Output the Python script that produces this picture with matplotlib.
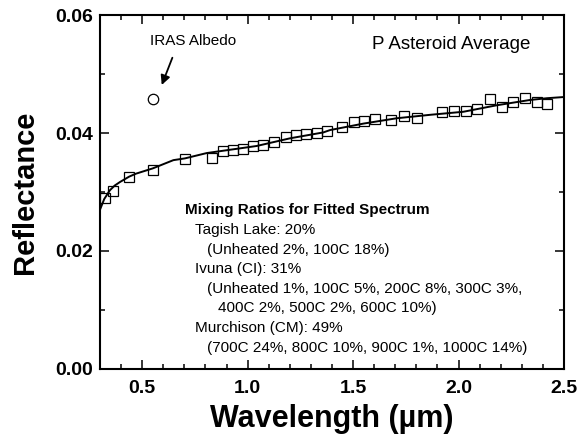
import matplotlib
matplotlib.use("Agg")
import matplotlib.pyplot as plt
from matplotlib.ticker import MultipleLocator, FormatStrFormatter

plt.rcParams['font.family'] = ['Liberation Sans', 'DejaVu Sans']

# P asteroid average spectrum (open squares)
wavelength = [0.324, 0.360, 0.439, 0.550, 0.703, 0.832, 0.882, 0.929, 0.979,
              1.026, 1.074, 1.126, 1.180, 1.228, 1.277, 1.328, 1.378, 1.446,
              1.504, 1.553, 1.604, 1.680, 1.741, 1.802, 1.923, 1.978, 2.034,
              2.089, 2.149, 2.205, 2.260, 2.315, 2.371, 2.421]
reflectance = [0.0289, 0.0301, 0.0326, 0.0337, 0.0356, 0.0357, 0.0370, 0.0371,
               0.0373, 0.0378, 0.0380, 0.0384, 0.0393, 0.0397, 0.0398, 0.0400,
               0.0403, 0.0411, 0.0419, 0.0421, 0.0423, 0.0422, 0.0428, 0.0425,
               0.0436, 0.0437, 0.0438, 0.0441, 0.0457, 0.0444, 0.0453, 0.0459,
               0.0453, 0.0449]

# fitted mixture spectrum (solid line)
fit_wavelength = [0.300, 0.320, 0.347, 0.370, 0.395, 0.438, 0.470, 0.550, 0.648,
                  0.703, 0.806, 0.885, 1.043, 1.201, 1.359, 1.391, 1.550, 1.707,
                  1.870, 2.023, 2.181, 2.339, 2.420, 2.500]
fit_reflectance = [0.0270, 0.0288, 0.0303, 0.0311, 0.0317, 0.0326, 0.0331, 0.0340,
                   0.0354, 0.0357, 0.0366, 0.0370, 0.0378, 0.0391, 0.0401, 0.0405,
                   0.0416, 0.0425, 0.0431, 0.0436, 0.0447, 0.0456, 0.0459, 0.0461]

# IRAS albedo point
iras_wavelength = 0.553
iras_albedo = 0.0458

mixing_lines = [
    ("Mixing Ratios for Fitted Spectrum", 0.183, 'bold'),
    ("Tagish Lake: 20%", 0.205, 'normal'),
    ("(Unheated 2%, 100C 18%)", 0.231, 'normal'),
    ("Ivuna (CI): 31%", 0.205, 'normal'),
    ("(Unheated 1%, 100C 5%, 200C 8%, 300C 3%,", 0.231, 'normal'),
    ("400C 2%, 500C 2%, 600C 10%)", 0.254, 'normal'),
    ("Murchison (CM): 49%", 0.205, 'normal'),
    ("(700C 24%, 800C 10%, 900C 1%, 1000C 14%)", 0.231, 'normal'),
]
mixing_y = [0.449, 0.393, 0.336, 0.282, 0.226, 0.172, 0.116, 0.059]

fig = plt.figure(figsize=(5.79, 4.34), dpi=100)
ax = fig.add_axes([0.1727, 0.1498, 0.8013, 0.8156])

ax.plot(fit_wavelength, fit_reflectance, color='black', lw=1.4)
ax.plot(wavelength, reflectance, linestyle='none', marker='s', markersize=6.5,
        markerfacecolor='none', markeredgecolor='black', markeredgewidth=0.9)
ax.plot([iras_wavelength], [iras_albedo], linestyle='none', marker='o',
        markersize=7.5, markerfacecolor='none', markeredgecolor='black',
        markeredgewidth=0.9)

ax.annotate('', xy=(0.588, 0.0477), xytext=(0.648, 0.0532),
            arrowprops=dict(arrowstyle='-|>', color='black', lw=1.3,
                            mutation_scale=14))
ax.text(0.741, 0.0556, 'IRAS Albedo', ha='center', va='center', fontsize=11)
ax.text(0.758, 0.916, 'P Asteroid Average', transform=ax.transAxes,
        ha='center', va='center', fontsize=13.5)

for (txt, x, weight), y in zip(mixing_lines, mixing_y):
    ax.text(x, y, txt, transform=ax.transAxes, ha='left', va='center',
            fontsize=11, fontweight=weight)

ax.set_xlim(0.3, 2.5)
ax.set_ylim(0.0, 0.06)
ax.xaxis.set_major_locator(MultipleLocator(0.5))
ax.xaxis.set_minor_locator(MultipleLocator(0.1))
ax.yaxis.set_major_locator(MultipleLocator(0.02))
ax.yaxis.set_minor_locator(MultipleLocator(0.01))
ax.xaxis.set_major_formatter(FormatStrFormatter('%.1f'))
ax.yaxis.set_major_formatter(FormatStrFormatter('%.2f'))

ax.tick_params(which='both', direction='in', top=True, right=True, width=1.1)
ax.tick_params(which='major', length=6.5, labelsize=14)
ax.tick_params(which='minor', length=3.8)
ax.tick_params(axis='x', which='major', pad=8)
ax.tick_params(axis='y', which='major', pad=5)
for lbl in ax.get_xticklabels() + ax.get_yticklabels():
    lbl.set_fontweight('bold')
for spine in ax.spines.values():
    spine.set_linewidth(1.5)

ax.set_xlabel('Wavelength (µm)', fontsize=22, fontweight='bold', labelpad=5)
ax.set_ylabel('Reflectance', fontsize=21, fontweight='bold', labelpad=12)

fig.savefig('out.png', dpi=100)
